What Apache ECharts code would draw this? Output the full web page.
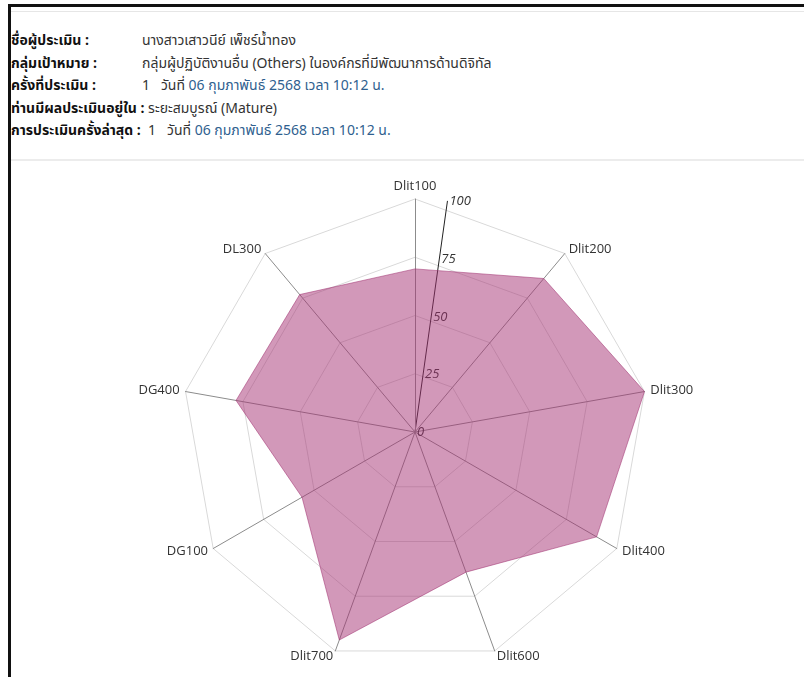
<!DOCTYPE html>
<html lang="th">
<head>
  <meta charset="UTF-8">
  <title>ผลการประเมิน</title>
  <style>
    body { margin: 0; background: #fff; overflow: hidden; }
    .frame {
      position: absolute; left: 8px; top: 4px; width: 820px; height: 700px;
      border-left: 3px solid #111; border-top: 3px solid #111;
    }
    .topline { position: absolute; left: 11px; top: 11px; width: 800px; border-top: 1px solid #e6e6e6; }
    .info {
      position: absolute; left: 11px; top: 30px;
      font-family: "Noto Sans Thai", Tahoma, "Open Sans", sans-serif;
      font-size: 14px; color: #333; line-height: 22.5px;
    }
    .info b { color: #111; display: inline-block; min-width: 131px; }
    .info .date { color: #2f5f8f; }
    .sep { position: absolute; left: 11px; top: 159px; width: 800px; border-top: 2px solid #ececec; }
    #chart { position: absolute; left: 0; top: 160px; width: 804px; height: 517px; }
  </style>
  <script src="https://cdn.jsdelivr.net/npm/echarts@6/dist/echarts.min.js"></script>
</head>
<body>
  <div class="frame"></div>
  <div class="topline"></div>
  <div class="info">
    <div><b>ชื่อผู้ประเมิน :</b>นางสาวเสาวนีย์ เพ็ชร์น้ำทอง</div>
    <div><b>กลุ่มเป้าหมาย :</b>กลุ่มผู้ปฏิบัติงานอื่น (Others) ในองค์กรที่มีพัฒนาการด้านดิจิทัล</div>
    <div><b>ครั้งที่ประเมิน :</b>1&nbsp;&nbsp;&nbsp;วันที่ <span class="date">06 กุมภาพันธ์ 2568 เวลา 10:12 น.</span></div>
    <div><b style="min-width:0">ท่านมีผลประเมินอยู่ใน :</b> ระยะสมบูรณ์ (Mature)</div>
    <div><b style="min-width:0">การประเมินครั้งล่าสุด :</b>&nbsp;&nbsp;1&nbsp;&nbsp;&nbsp;วันที่ <span class="date">06 กุมภาพันธ์ 2568 เวลา 10:12 น.</span></div>
  </div>
  <div class="sep"></div>
  <div id="chart"></div>

  <script>
    // ตัวชี้วัด เรียงตามเข็มนาฬิกาจากด้านบน
    const indicatorNames = ['Dlit100', 'Dlit200', 'Dlit300', 'Dlit400', 'Dlit600', 'Dlit700', 'DG100', 'DG400', 'DL300'];
    const scores = [70, 86, 100, 90, 64, 95, 56, 78, 77];
    const scaleMax = 100;
    const scaleStep = 25;

    // echarts วางตัวชี้วัดทวนเข็มนาฬิกา จึงกลับลำดับ (ยกเว้นตัวแรก)
    const order = [0].concat(indicatorNames.map((_, i) => i).slice(1).reverse());

    const chart = echarts.init(document.getElementById('chart'));
    const center = [415, 272];
    const radius = 233;

    chart.setOption({
      animation: false,
      radar: {
        center: center,
        radius: radius,
        startAngle: 90,
        shape: 'polygon',
        splitNumber: 4,
        indicator: order.map(i => ({ name: indicatorNames[i], min: 0, max: scaleMax })),
        axisName: { color: '#333', fontSize: 13, fontFamily: 'Open Sans' },
        nameGap: 6,
        splitArea: { show: false },
        splitLine: { lineStyle: { color: '#d9d9d9', width: 1 } },
        axisLine: { lineStyle: { color: '#8c8c8c', width: 1 } },
        axisLabel: { show: false }
      },
      polar: { center: center, radius: radius },
      angleAxis: {
        startAngle: 82, min: 0, max: 360, show: false
      },
      radiusAxis: {
        min: 0, max: scaleMax, interval: scaleStep,
        axisLine: { lineStyle: { color: '#222', width: 1 } },
        axisTick: { show: false },
        splitLine: { show: false },
        axisLabel: {
          color: '#333', fontStyle: 'italic', fontSize: 13, fontFamily: 'Open Sans',
          margin: -2, align: 'left', verticalAlign: 'middle'
        }
      },
      series: [{
        type: 'radar',
        symbol: 'none',
        z: 3,
        data: [{
          value: order.map(i => scores[i]),
          lineStyle: { color: 'rgba(160,55,115,0.55)', width: 1 },
          areaStyle: { color: 'rgba(165,50,115,0.5)', opacity: 1 }
        }]
      }]
    });
  </script>
</body>
</html>
